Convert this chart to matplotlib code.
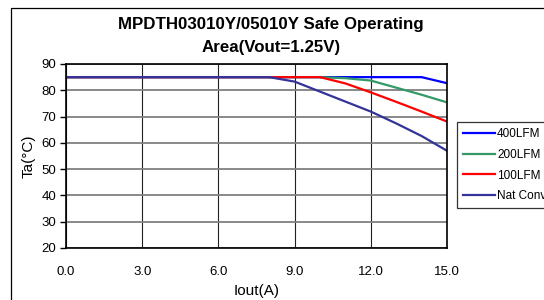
import matplotlib
matplotlib.use('Agg')
import matplotlib.pyplot as plt
from matplotlib.patches import Rectangle

plt.rcParams['font.family'] = ['Liberation Sans', 'DejaVu Sans']

# Output current (A)
iout = [0, 8, 9, 10, 11, 12, 13, 14, 15]

# Max ambient temperature (C) per airflow
lfm400 = [85, 85, 85, 85, 85, 85, 85, 85, 82.7]
lfm200 = [85, 85, 85, 85, 84.6, 83.7, 81.0, 78.3, 75.4]
lfm100 = [85, 85, 85, 85, 82.6, 79.2, 75.6, 71.9, 68.1]
natconv = [85, 85, 83.3, 79.5, 75.7, 71.9, 67.4, 62.6, 57.0]

labels = ['400LFM', '200LFM', '100LFM', 'Nat Conv']
colors = ['#0000FF', '#339966', '#FF0000', '#333399']
series = [lfm400, lfm200, lfm100, natconv]

W, H = 544, 300
fig = plt.figure(figsize=(W / 100, H / 100), dpi=100)

# outer chart border (cropped at right and bottom)
fig.patches.append(Rectangle((11 / W, -0.1), 1.2, 1 - 8 / H + 0.1,
                             transform=fig.transFigure, fill=False,
                             edgecolor='black', linewidth=0.9))

ax = fig.add_axes([66 / W, 1 - 248 / H, (447 - 66) / W, (248 - 64) / H])

for y, lab, c in zip(series, labels, colors):
    ax.plot(iout, y, color=c, linewidth=1.6, label=lab)

ax.set_xlim(0, 15)
ax.set_ylim(20, 90)
ax.set_xticks([0, 3, 6, 9, 12, 15])
ax.set_xticklabels(['0.0', '3.0', '6.0', '9.0', '12.0', '15.0'])
ax.set_yticks(range(20, 91, 10))

ax.grid(axis='y', color='#808080', linewidth=1.3)
ax.grid(axis='x', color='#202020', linewidth=0.8)
ax.set_axisbelow(True)
for s in ax.spines.values():
    s.set_linewidth(1.2)

ax.tick_params(axis='x', length=0, pad=13, labelsize=9.5)
ax.tick_params(axis='y', length=4, width=1, pad=3, labelsize=9.5)

ax.set_xlabel('Iout(A)', fontsize=11, labelpad=4)
ax.set_ylabel('Ta(°C)', fontsize=11, labelpad=4)

fig.text(271 / W, 1 - 25 / H, 'MPDTH03010Y/05010Y Safe Operating',
         ha='center', va='center', fontsize=12.2, fontweight='bold')
fig.text(271 / W, 1 - 47 / H, 'Area(Vout=1.25V)',
         ha='center', va='center', fontsize=12.2, fontweight='bold')

leg = fig.legend(loc='upper left', bbox_to_anchor=(457 / W, 1 - 122 / H),
                 fontsize=8.5, frameon=True, fancybox=False, borderaxespad=0,
                 handlelength=2.7, handletextpad=0.2, labelspacing=0.75,
                 borderpad=0.5)
leg.get_frame().set_edgecolor('black')
leg.get_frame().set_linewidth(0.9)

fig.savefig('out.png', dpi=100)
